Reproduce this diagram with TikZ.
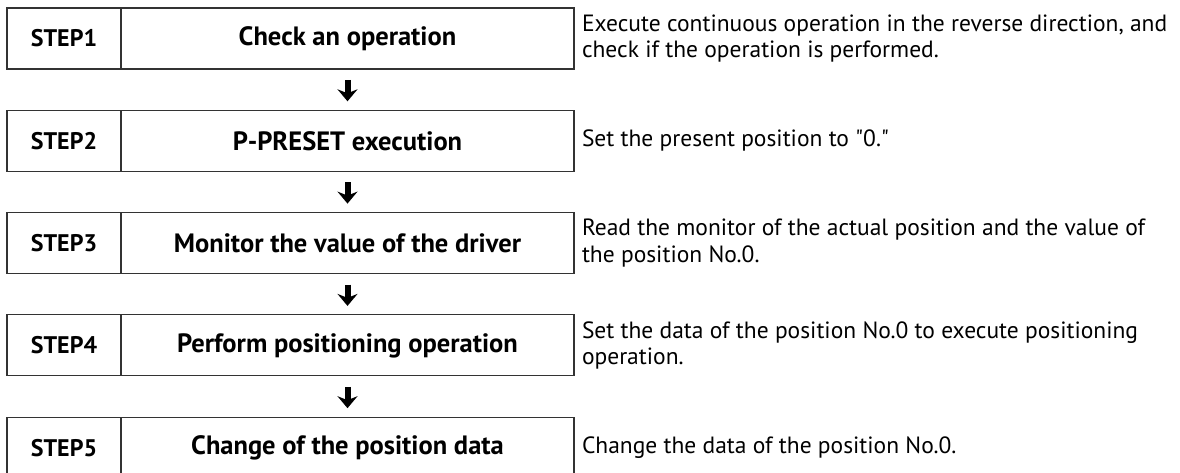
\documentclass[tikz,border=0pt]{standalone}
\usepackage{fontspec}
\setmainfont{PT Sans}
\usetikzlibrary{arrows.meta, positioning}

\begin{document}
\begin{tikzpicture}[
        x = 1pt, y = 1pt,
        node distance = 41.3pt and 0pt,
        >= {Stealth[length = 12pt, width = 20pt, inset = 4pt]},
        every node/.style = {inner sep = 0pt, outer sep = 0pt},
        stepbox/.style = {draw = black!80, line width = 1.1pt, minimum width = 114pt, minimum height = 61pt,
            font = \bfseries\fontsize{24}{28}\selectfont},
        titlebox/.style = {stepbox, minimum width = 453pt, font = \bfseries\fontsize{26.5}{30}\selectfont},
        desc/.style = {anchor = west, align = left, font = \fontsize{23.5}{26.5}\selectfont},
        flow/.style = {->, line width = 6pt, shorten <= 11pt, shorten >= 9pt}
    ]

    \useasboundingbox (0,0) rectangle (1180,-473);

    \node[stepbox, anchor = north west] (step1) at (7,-8) {STEP1};
    \node[stepbox] (step2) [below = of step1] {STEP2};
    \node[stepbox] (step3) [below = of step2] {STEP3};
    \node[stepbox] (step4) [below = of step3] {STEP4};
    \node[stepbox] (step5) [below = of step4] {STEP5};

    \node[titlebox] (title1) [right = 0pt of step1] {Check an operation};
    \node[titlebox] (title2) [right = 0pt of step2] {P-PRESET execution};
    \node[titlebox] (title3) [right = 0pt of step3] {Monitor the value of the driver};
    \node[titlebox] (title4) [right = 0pt of step4] {Perform positioning operation};
    \node[titlebox] (title5) [right = 0pt of step5] {Change of the position data};

    \node[desc] (desc1) [right = 8pt of title1] {Execute continuous operation in the reverse direction, and\\check if the operation is performed.};
    \node[desc] (desc2) [right = 8pt of title2] {Set the present position to \textquotedbl 0.\textquotedbl};
    \node[desc] (desc3) [right = 8pt of title3] {Read the monitor of the actual position and the value of\\the position No.0.};
    \node[desc] (desc4) [right = 8pt of title4] {Set the data of the position No.0 to execute positioning\\operation.};
    \node[desc] (desc5) [right = 8pt of title5] {Change the data of the position No.0.};

    \draw[flow] (title1) -- (title2);
    \draw[flow] (title2) -- (title3);
    \draw[flow] (title3) -- (title4);
    \draw[flow] (title4) -- (title5);

\end{tikzpicture}
\end{document}
